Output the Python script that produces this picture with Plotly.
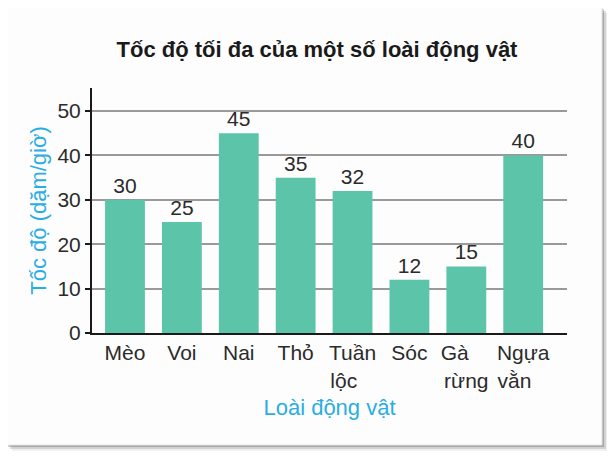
import plotly.graph_objects as go

NB = '\u00a0'
animals = ['Mèo', 'Voi', 'Nai', 'Thỏ', 'Tuần<br>lộc' + NB * 3, 'Sóc',
           'Gà' + NB * 4 + '<br>rừng', 'Ngựa<br>vằn' + NB * 3]
speeds = [30, 25, 45, 35, 32, 12, 15, 40]

FONT = 'Liberation Sans, Arial, sans-serif'
BAR_COLOR = '#5cc4a9'
CYAN = '#2aaee2'
TEXT = '#2b2b2b'

# the page body adds 8px, so the figure is 8px smaller and shifted
OFF = 8
W, H = 615 - OFF, 457 - OFF
# plot area in reference pixels: x 92..567, y 88..333
L, R, T, B = 92 - OFF, W - (567 - OFF), 88 - OFF, H - (333 - OFF)
pw, ph = W - L - R, H - T - B


def px_x(v):
    return (v - OFF - L) / pw


def px_y(v):
    return (H - B - (v - OFF)) / ph


fig = go.Figure()
fig.add_trace(go.Bar(
    x=animals, y=speeds,
    marker=dict(color=BAR_COLOR, line=dict(width=0)),
    text=speeds, textposition='outside',
    textfont=dict(size=21, color=TEXT, family=FONT),
    cliponaxis=False,
))

# card border with a soft shadow
shapes = []
for off, col in [(6, 'rgba(0,0,0,0.06)'), (4, 'rgba(0,0,0,0.12)'), (2, 'rgba(0,0,0,0.2)')]:
    shapes.append(dict(type='rect', xref='paper', yref='paper', layer='below',
                       x0=px_x(6 + off), x1=px_x(602 + off),
                       y0=px_y(445 + off), y1=px_y(7 + off),
                       fillcolor=col, line=dict(width=0)))
shapes.append(dict(type='rect', xref='paper', yref='paper', layer='below',
                   x0=px_x(6), x1=px_x(602), y0=px_y(445), y1=px_y(7),
                   fillcolor='#fdfdfd', line=dict(color='#e3e3e3', width=1)))

fig.update_layout(
    width=W, height=H,
    margin=dict(l=L, r=R, t=T, b=B),
    paper_bgcolor='white',
    plot_bgcolor='rgba(0,0,0,0)',
    showlegend=False,
    bargap=0.3,
    shapes=shapes,
    font=dict(family=FONT, color=TEXT, size=21),
    title=dict(text='<b>Tốc độ tối đa của một số loài động vật</b>',
               x=px_x(317), xref='paper', xanchor='center',
               y=1 - (49 - OFF) / H, yanchor='middle',
               font=dict(size=22, color='#1a1a1a', family=FONT)),
)
fig.update_xaxes(
    range=[-0.58, 7.77], showline=True, linecolor='#1a1a1a', linewidth=2,
    ticks='', tickfont=dict(size=21, color=TEXT),
    title=dict(text='Loài động vật', font=dict(size=22, color=CYAN), standoff=9),
    showgrid=False,
)
fig.update_yaxes(
    range=[0, 55.2], dtick=10, showline=True, linecolor='#1a1a1a', linewidth=2,
    ticks='outside', ticklen=5, tickcolor='#1a1a1a', tickwidth=1.5,
    tickfont=dict(size=21, color=TEXT),
    showgrid=True, gridcolor='#9a9a9a', gridwidth=1.5, zeroline=False,
    title=dict(text='Tốc độ (dặm/giờ)', font=dict(size=22, color=CYAN), standoff=5),
)

fig.write_html('out.html')
